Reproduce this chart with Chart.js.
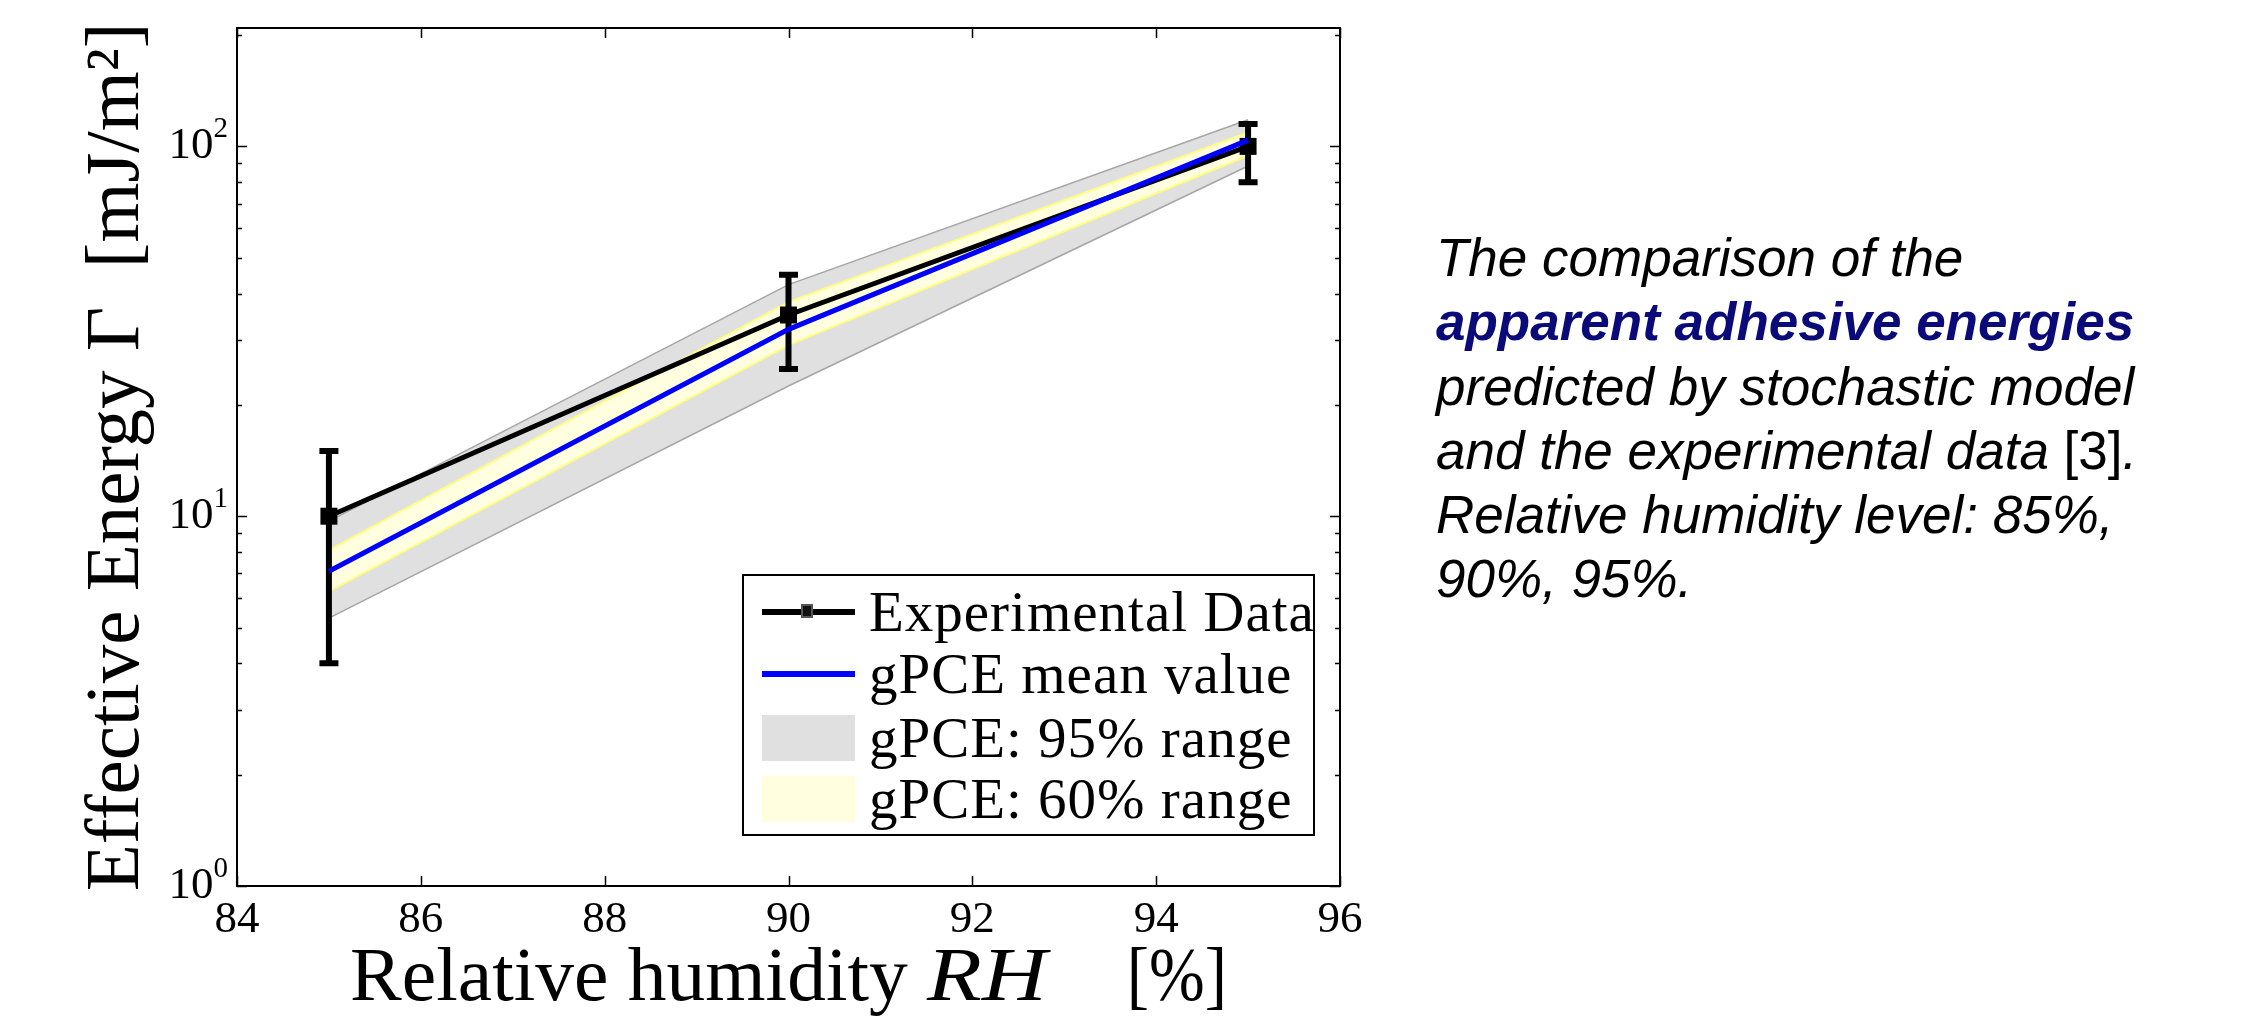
<!DOCTYPE html>
<html>
<head>
<meta charset="utf-8">
<title>Effective energy vs relative humidity</title>
<script src="https://cdn.jsdelivr.net/npm/chart.js@4.4.1/dist/chart.umd.min.js"></script>
<style>
  html, body { margin: 0; padding: 0; background: #fff; }
  body { width: 2241px; height: 1017px; position: relative; overflow: hidden; }
  #wrap { position: absolute; left: 0; top: 0; width: 2241px; height: 1017px; }
  #legend {
    position: absolute; left: 742px; top: 574px; width: 573px; height: 262px;
    box-sizing: border-box; border: 2px solid #000; background: #fff;
    font-family: "Liberation Serif", serif; font-size: 57px; letter-spacing: 1px; color: #000;
  }
  .row { position: absolute; left: 0; height: 60px; width: 100%; }
  .row .txt { position: absolute; left: 125px; top: 0; line-height: 60px; white-space: nowrap; }
  .row .sw { position: absolute; left: 18px; width: 93px; }
  .line { top: 27px; height: 6px; }
  .patch { top: 7px; height: 46px; }
  .mark { position: absolute; left: 39px; top: -5px; width: 12px; height: 14px; box-sizing: border-box; border: 2px solid #555; background: #111; }
  #note {
    position: absolute; left: 1436px; top: 226px;
    font-family: "Liberation Sans", Arial, sans-serif; font-style: italic;
    font-size: 53px; line-height: 64.3px; color: #000; white-space: nowrap;
  }
  #note b { color: #0a0a78; }
  #note .up { font-style: normal; }
</style>
</head>
<body>
<div id="wrap"><canvas id="myChart" width="2241" height="1017"></canvas></div>

<div id="legend">
  <div class="row" style="top:6px"><div class="sw line" style="background:#000"><div class="mark"></div></div><div class="txt">Experimental Data</div></div>
  <div class="row" style="top:68px"><div class="sw line" style="background:#0000ff"></div><div class="txt">gPCE mean value</div></div>
  <div class="row" style="top:132px"><div class="sw patch" style="background:#e0e0e0"></div><div class="txt">gPCE: 95% range</div></div>
  <div class="row" style="top:193px"><div class="sw patch" style="background:#ffffe0"></div><div class="txt">gPCE: 60% range</div></div>
</div>

<div id="note">The comparison of the<br><b>apparent adhesive energies</b><br>predicted by stochastic model<br>and the experimental data <span class="up">[3]</span>.<br>Relative humidity level: 85%,<br>90%, 95%.</div>

<script>
// relative humidity levels (x)
const rhValues = [85, 90, 95];

// experimental data with error bars
const expValues = [10, 35, 100];
const expLower = [4, 25, 80];
const expUpper = [15, 45, 115];

// gPCE results
const meanValues = [7.1, 32, 104];
const range95Low = [5.3, 22.5, 88.5];
const range95High = [9.7, 42.3, 118];
const range60Low = [6.25, 29, 94.5];
const range60High = [8.1, 38, 109];

// axes
const xTicks = [84, 86, 88, 90, 92, 94, 96];
const yTicks = [1, 2, 3, 4, 5, 6, 7, 8, 9, 10, 20, 30, 40, 50, 60, 70, 80, 90, 100, 200];
const yMajor = [1, 10, 100];
const yExponents = ['0', '1', '2'];

const serif = '"Liberation Serif", "Times New Roman", serif';

function pts(arr) {
  return rhValues.map((x, i) => ({x: x, y: arr[i]}));
}

const datasets = [
  {label: 'Experimental Data', data: pts(expValues), borderColor: '#000', backgroundColor: '#000',
   borderWidth: 5, pointStyle: 'rect', pointRadius: 12, pointBorderWidth: 0, fill: false, order: 3},
  {label: 'gPCE mean value', data: pts(meanValues), borderColor: '#0000ff', borderWidth: 5,
   pointRadius: 0, fill: false, order: 1},
  {label: '95 high', data: pts(range95High), borderColor: '#a6a6a6', borderWidth: 1.5,
   backgroundColor: '#e0e0e0', pointRadius: 0, fill: '+1', order: 6},
  {label: '95 low', data: pts(range95Low), borderColor: '#a6a6a6', borderWidth: 1.5,
   pointRadius: 0, fill: false, order: 5.5},
  {label: '60 high', data: pts(range60High), borderColor: '#ffff80', borderWidth: 2,
   backgroundColor: '#ffffe0', pointRadius: 0, fill: '+1', order: 5},
  {label: '60 low', data: pts(range60Low), borderColor: '#ffff80', borderWidth: 2,
   pointRadius: 0, fill: false, order: 4.5}
];

const framePlugin = {
  id: 'frame',
  afterDatasetDraw(chart, args) {
    // error bars go on top of the black line but under the blue one
    if (args.index !== 0) return;
    const {ctx, scales: {x, y}} = chart;
    ctx.save();
    ctx.strokeStyle = '#000';
    ctx.lineWidth = 6;
    ctx.lineCap = 'butt';
    rhValues.forEach((rh, i) => {
      const px = x.getPixelForValue(rh);
      const top = y.getPixelForValue(expUpper[i]);
      const bot = y.getPixelForValue(expLower[i]);
      ctx.beginPath();
      ctx.moveTo(px, top); ctx.lineTo(px, bot);
      ctx.moveTo(px - 9.5, top); ctx.lineTo(px + 9.5, top);
      ctx.moveTo(px - 9.5, bot); ctx.lineTo(px + 9.5, bot);
      ctx.stroke();
    });
    ctx.restore();
  },
  afterDraw(chart) {
    const {ctx, chartArea: a, scales: {x, y}} = chart;
    ctx.save();
    ctx.strokeStyle = '#000';
    ctx.lineWidth = 2;
    ctx.strokeRect(a.left, a.top, a.right - a.left, a.bottom - a.top);

    // inward ticks, mirrored on both sides
    ctx.beginPath();
    x.ticks.forEach(t => {
      const px = Math.round(x.getPixelForValue(t.value)) + 0.5;
      ctx.moveTo(px, a.bottom); ctx.lineTo(px, a.bottom - 10);
      ctx.moveTo(px, a.top); ctx.lineTo(px, a.top + 10);
    });
    y.ticks.forEach(t => {
      const py = Math.round(y.getPixelForValue(t.value)) + 0.5;
      const len = yMajor.includes(t.value) ? 10 : 5;
      ctx.moveTo(a.left, py); ctx.lineTo(a.left + len, py);
      ctx.moveTo(a.right, py); ctx.lineTo(a.right - len, py);
    });
    ctx.lineWidth = 1.5;
    ctx.stroke();

    // y tick labels 10^n
    ctx.fillStyle = '#000';
    yMajor.forEach((v, i) => {
      const py = y.getPixelForValue(v);
      ctx.font = '29px ' + serif;
      const wSup = ctx.measureText(yExponents[i]).width;
      ctx.font = '45px ' + serif;
      const wBase = ctx.measureText('10').width;
      const right = a.left - 9;
      ctx.textAlign = 'left';
      ctx.textBaseline = 'middle';
      ctx.fillText('10', right - wSup - wBase, py);
      ctx.font = '29px ' + serif;
      ctx.textBaseline = 'alphabetic';
      ctx.fillText(yExponents[i], right - wSup, py - 9);
    });

    // x axis title with italic RH
    const parts = [
      {text: 'Relative humidity ', font: '76px ' + serif, sx: 1.02},
      {text: 'RH', font: 'italic 76px ' + serif, sx: 1.18},
      {text: '', font: '76px ' + serif, gap: 80},
      {text: '[%]', font: '76px ' + serif, sx: 0.88}
    ];
    let total = 0;
    parts.forEach(p => {
      ctx.font = p.font;
      p.w = p.gap || ctx.measureText(p.text).width * p.sx;
      total += p.w;
    });
    let cx = (a.left + a.right) / 2 - total / 2;
    ctx.textBaseline = 'alphabetic';
    ctx.textAlign = 'left';
    parts.forEach(p => {
      ctx.font = p.font;
      if (p.text) {
        ctx.save();
        ctx.translate(cx, 1000);
        ctx.scale(p.sx, 1);
        ctx.fillText(p.text, 0, 0);
        ctx.restore();
      }
      cx += p.w;
    });
    ctx.restore();
  }
};

window.addEventListener('DOMContentLoaded', () => {
  const myChart = new Chart(document.getElementById('myChart'), {
    type: 'line',
    data: {datasets: datasets},
    options: {
      responsive: false,
      animation: false,
      events: [],
      devicePixelRatio: 1,
      layout: {padding: {left: 0, top: 28, right: 901, bottom: 0}},
      elements: {line: {tension: 0}},
      plugins: {legend: {display: false}, tooltip: {enabled: false}},
      scales: {
        x: {
          type: 'linear',
          min: 84, max: 96,
          grid: {display: false, drawTicks: false},
          border: {display: false},
          afterBuildTicks: (scale) => { scale.ticks = xTicks.map(v => ({value: v})); },
          afterFit: (scale) => { scale.height = 131; },
          ticks: {color: '#000', padding: 7, maxRotation: 0, font: {family: serif, size: 45}}
        },
        y: {
          type: 'logarithmic',
          min: 1, max: 209,
          grid: {display: false, drawTicks: false},
          border: {display: false},
          afterBuildTicks: (scale) => { scale.ticks = yTicks.map(v => ({value: v})); },
          afterFit: (scale) => { scale.width = 237; },
          ticks: {display: false},
          title: {
            display: true,
            text: 'Effective Energy Γ  [mJ/m²]',
            color: '#000',
            font: {family: serif, size: 77},
            padding: {top: 72, bottom: 0}
          }
        }
      }
    },
    plugins: [framePlugin]
  });
});
</script>
</body>
</html>
